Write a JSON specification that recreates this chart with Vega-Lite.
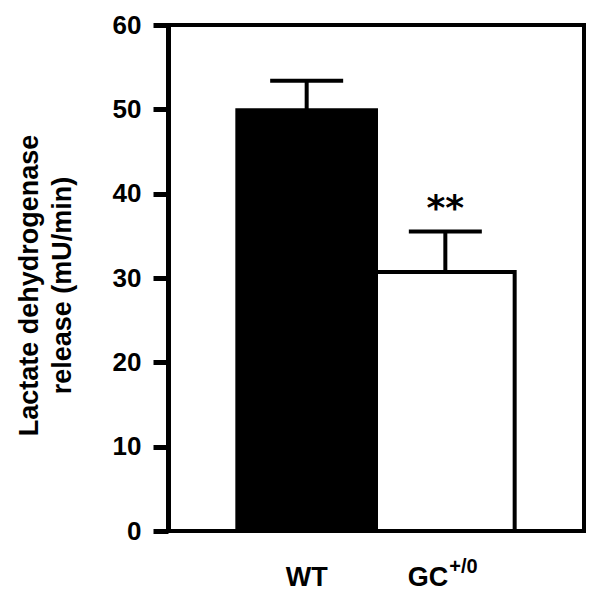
{
  "$schema": "https://vega.github.io/schema/vega-lite/v6.json",
  "width": 416,
  "height": 506,
  "autosize": {"type": "none"},
  "padding": {"left": 168, "top": 25, "right": 18, "bottom": 71},
  "background": "white",
  "config": {
    "view": {"stroke": "black", "strokeWidth": 4},
    "font": "Liberation Sans"
  },
  "data": {
    "values": [
      {"group": "WT", "value": 49.9, "upper": 53.4, "sig": "", "main": "WT", "sup": ""},
      {"group": "GC+/0", "value": 30.7, "upper": 35.5, "sig": "**", "main": "GC", "sup": "+/0"}
    ]
  },
  "encoding": {
    "x": {
      "field": "group",
      "type": "nominal",
      "sort": ["WT", "GC+/0"],
      "scale": {"paddingInner": 0, "paddingOuter": 0.5},
      "axis": null
    }
  },
  "layer": [
    {
      "mark": {"type": "bar", "stroke": "black", "strokeWidth": 4, "strokeJoin": "miter"},
      "encoding": {
        "y": {
          "field": "value",
          "type": "quantitative",
          "scale": {"domain": [0, 60], "nice": false},
          "axis": {
            "values": [0, 10, 20, 30, 40, 50, 60],
            "grid": false,
            "domainColor": "black",
            "domainWidth": 5,
            "tickColor": "black",
            "tickWidth": 5,
            "tickSize": 15,
            "labelFont": "Liberation Sans",
            "labelFontWeight": "bold",
            "labelFontSize": 26,
            "labelColor": "black",
            "labelPadding": 12,
            "title": ["Lactate dehydrogenase", "release (mU/min)"],
            "titleFont": "Liberation Sans",
            "titleFontWeight": "bold",
            "titleFontSize": 27,
            "titleColor": "black",
            "titleLineHeight": 33,
            "titleAnchor": "middle",
            "titleY": 260,
            "titlePadding": 36
          }
        },
        "fill": {
          "field": "group",
          "type": "nominal",
          "scale": {"domain": ["WT", "GC+/0"], "range": ["black", "white"]},
          "legend": null
        }
      }
    },
    {
      "mark": {"type": "rule", "color": "black", "strokeWidth": 4},
      "encoding": {
        "y": {"field": "value", "type": "quantitative"},
        "y2": {"field": "upper"}
      }
    },
    {
      "mark": {"type": "tick", "color": "black", "opacity": 1, "size": 73, "thickness": 4, "orient": "horizontal"},
      "encoding": {
        "y": {"field": "upper", "type": "quantitative"}
      }
    },
    {
      "mark": {"type": "text", "font": "DejaVu Sans", "fontWeight": "bold", "fontSize": 36, "color": "black", "baseline": "alphabetic", "dy": -12},
      "encoding": {
        "y": {"field": "upper", "type": "quantitative"},
        "text": {"field": "sig"}
      }
    },
    {
      "transform": [{"filter": "datum.group == 'WT'"}],
      "mark": {"type": "text", "font": "Liberation Sans", "fontWeight": "bold", "fontSize": 27, "color": "black", "align": "center", "baseline": "alphabetic", "dy": 55},
      "encoding": {
        "y": {"datum": 0},
        "text": {"field": "main"}
      }
    },
    {
      "transform": [{"filter": "datum.group != 'WT'"}],
      "mark": {"type": "text", "font": "Liberation Sans", "fontWeight": "bold", "fontSize": 27, "color": "black", "align": "right", "baseline": "alphabetic", "dx": 3, "dy": 55},
      "encoding": {
        "y": {"datum": 0},
        "text": {"field": "main"}
      }
    },
    {
      "transform": [{"filter": "datum.group != 'WT'"}],
      "mark": {"type": "text", "font": "Liberation Sans", "fontWeight": "bold", "fontSize": 20, "color": "black", "align": "left", "baseline": "alphabetic", "dx": 4, "dy": 42},
      "encoding": {
        "y": {"datum": 0},
        "text": {"field": "sup"}
      }
    }
  ]
}
